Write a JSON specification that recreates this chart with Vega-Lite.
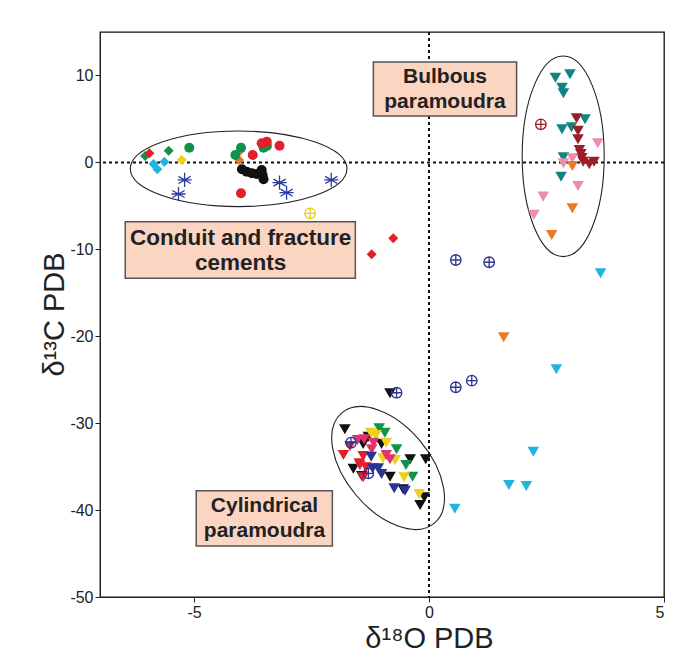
{
  "$schema": "https://vega.github.io/schema/vega-lite/v6.json",
  "width": 564,
  "height": 565,
  "autosize": {"type": "none"},
  "padding": {"left": 100, "top": 32, "right": 9, "bottom": 61},
  "background": "white",
  "config": {
    "view": {"stroke": "#111", "strokeWidth": 1.3},
    "axis": {"grid": false, "labelFont": "Liberation Sans", "labelFontSize": 16, "labelColor": "#222", "tickColor": "#222", "tickSize": 5, "domainColor": "#222", "titleFont": "Liberation Sans", "titleFontWeight": "normal", "titleFontSize": 29, "titleColor": "#222", "labelExpr": "'' + datum.value"}
  },
  "datasets": {
    "pts": [
      {"x": -6.04, "y": 0.74, "s": "g1"}, {"x": -5.54, "y": 1.35, "s": "g1"},
      {"x": -5.95, "y": 1.05, "s": "g2"}, {"x": -0.76, "y": -8.73, "s": "g2"}, {"x": -1.22, "y": -10.57, "s": "g2"},
      {"x": -5.86, "y": -0.18, "s": "g3"}, {"x": -5.78, "y": -0.79, "s": "g3"}, {"x": -5.63, "y": 0.08, "s": "g3"},
      {"x": -5.26, "y": 0.28, "s": "g4"},
      {"x": -4.02, "y": 1.35, "s": "g5"}, {"x": -4.04, "y": 0.28, "s": "g5"},
      {"x": -5.10, "y": 1.69, "s": "g6"}, {"x": -4.00, "y": 1.69, "s": "g6"}, {"x": -4.12, "y": 0.85, "s": "g6"}, {"x": -3.52, "y": 1.69, "s": "g6"}, {"x": -3.45, "y": 1.89, "s": "g6"},
      {"x": -3.75, "y": 0.85, "s": "g7"}, {"x": -3.56, "y": 2.2, "s": "g7"}, {"x": -3.45, "y": 2.38, "s": "g7"}, {"x": -3.18, "y": 1.92, "s": "g7"}, {"x": -4.0, "y": -3.56, "s": "g7"},
      {"x": -3.98, "y": -0.79, "s": "g8"}, {"x": -3.88, "y": -1.07, "s": "g8"}, {"x": -3.77, "y": -1.25, "s": "g8"}, {"x": -3.66, "y": -1.33, "s": "g8"}, {"x": -3.56, "y": -0.87, "s": "g8"}, {"x": -3.54, "y": -1.45, "s": "g8"}, {"x": -3.52, "y": -1.94, "s": "g8"},
      {"x": 2.69, "y": 9.74, "s": "g9"}, {"x": 3.0, "y": 10.14, "s": "g9"}, {"x": 2.83, "y": 8.59, "s": "g9"}, {"x": 2.86, "y": 7.95, "s": "g9"}, {"x": 3.32, "y": 4.96, "s": "g9"}, {"x": 2.83, "y": 3.81, "s": "g9"}, {"x": 3.03, "y": 4.04, "s": "g9"}, {"x": 2.86, "y": 0.59, "s": "g9"}, {"x": 2.81, "y": -1.65, "s": "g9"},
      {"x": 3.14, "y": 5.07, "s": "g10"}, {"x": 3.17, "y": 3.65, "s": "g10"}, {"x": 3.17, "y": 2.66, "s": "g10"}, {"x": 3.2, "y": 1.43, "s": "g10"}, {"x": 3.23, "y": 0.97, "s": "g10"}, {"x": 3.25, "y": 0.5, "s": "g10"}, {"x": 3.28, "y": 0.08, "s": "g10"}, {"x": 3.41, "y": -0.22, "s": "g10"}, {"x": 3.51, "y": 0.08, "s": "g10"},
      {"x": 3.59, "y": 2.2, "s": "g11"}, {"x": 3.05, "y": 0.47, "s": "g11"}, {"x": 2.86, "y": -0.1, "s": "g11"}, {"x": 3.17, "y": -2.72, "s": "g11"}, {"x": 2.43, "y": -3.94, "s": "g11"}, {"x": 2.23, "y": -6.04, "s": "g11"},
      {"x": 3.05, "y": -0.41, "s": "g12"}, {"x": 3.05, "y": -5.28, "s": "g12"}, {"x": 2.61, "y": -8.35, "s": "g12"}, {"x": 1.59, "y": -20.12, "s": "g12"},
      {"x": 3.65, "y": -12.76, "s": "g13"}, {"x": 2.71, "y": -23.8, "s": "g13"}, {"x": 2.22, "y": -33.28, "s": "g13"}, {"x": 1.7, "y": -37.11, "s": "g13"}, {"x": 2.07, "y": -37.23, "s": "g13"}, {"x": 0.55, "y": -39.84, "s": "g13"},
      {"x": -0.83, "y": -26.56, "s": "g14"}, {"x": -1.79, "y": -30.71, "s": "g14"}, {"x": -1.29, "y": -31.56, "s": "g14"}, {"x": -1.4, "y": -32.4, "s": "g14"}, {"x": -1.01, "y": -32.4, "s": "g14"}, {"x": -0.4, "y": -34.16, "s": "g14"}, {"x": -0.07, "y": -34.16, "s": "g14"}, {"x": -1.61, "y": -35.24, "s": "g14"}, {"x": -1.43, "y": -36.08, "s": "g14"}, {"x": -0.83, "y": -36.16, "s": "g14"}, {"x": -0.55, "y": -37.61, "s": "g14"}, {"x": -0.1, "y": -38.53, "s": "g14"}, {"x": -0.19, "y": -39.42, "s": "g14"},
      {"x": -1.06, "y": -30.59, "s": "g15"}, {"x": -0.94, "y": -31.1, "s": "g15"}, {"x": -0.69, "y": -33.01, "s": "g15"}, {"x": -0.49, "y": -34.81, "s": "g15"}, {"x": -0.35, "y": -36.16, "s": "g15"},
      {"x": -1.24, "y": -31.1, "s": "g16"}, {"x": -1.13, "y": -31.36, "s": "g16"}, {"x": -0.91, "y": -32.25, "s": "g16"}, {"x": -0.98, "y": -34.04, "s": "g16"}, {"x": -0.72, "y": -34.24, "s": "g16"}, {"x": -0.53, "y": -36.23, "s": "g16"}, {"x": -0.21, "y": -38.15, "s": "g16"},
      {"x": -1.52, "y": -31.94, "s": "g17"}, {"x": -1.38, "y": -31.86, "s": "g17"}, {"x": -1.18, "y": -32.25, "s": "g17"}, {"x": -1.22, "y": -33.01, "s": "g17"}, {"x": -0.91, "y": -33.66, "s": "g17"}, {"x": -0.83, "y": -34.16, "s": "g17"}, {"x": -1.47, "y": -34.85, "s": "g17"},
      {"x": -1.68, "y": -32.63, "s": "g18"}, {"x": -1.82, "y": -33.66, "s": "g18"}, {"x": -1.4, "y": -33.78, "s": "g18"}, {"x": -1.48, "y": -34.62, "s": "g18"}, {"x": -1.34, "y": -35.08, "s": "g18"}, {"x": -1.4, "y": -36.23, "s": "g18"},
      {"x": -1.23, "y": -33.86, "s": "g19"}, {"x": -1.2, "y": -35.19, "s": "g19"}, {"x": -1.08, "y": -35.19, "s": "g19"}, {"x": -1.01, "y": -35.85, "s": "g19"}, {"x": -0.74, "y": -37.49, "s": "g19"}, {"x": -0.51, "y": -37.77, "s": "g19"},
      {"x": -5.2, "y": -2.02, "s": "g20"}, {"x": -5.33, "y": -3.64, "s": "g20"}, {"x": -3.18, "y": -2.33, "s": "g20"}, {"x": -3.03, "y": -3.49, "s": "g20"}, {"x": -2.08, "y": -2.02, "s": "g20"},
      {"x": -2.53, "y": -5.86, "s": "g21"},
      {"x": 0.57, "y": -11.23, "s": "g22"}, {"x": 1.28, "y": -11.49, "s": "g22"}, {"x": 0.57, "y": -25.87, "s": "g22"}, {"x": 0.91, "y": -25.11, "s": "g22"}, {"x": -0.69, "y": -26.5, "s": "g22"}, {"x": -1.66, "y": -32.25, "s": "g22"}, {"x": -1.29, "y": -35.77, "s": "g22"},
      {"x": 2.38, "y": 4.38, "s": "g23"}
    ]
  },
  "layer": [
    {
      "data": {"values": [{"v": 0}]},
      "mark": {"type": "rule", "color": "#111", "strokeWidth": 2, "strokeDash": [3, 3]},
      "encoding": {"x": {"datum": 0, "type": "quantitative"}}
    },
    {
      "data": {"values": [{"v": 0}]},
      "mark": {"type": "rule", "color": "#111", "strokeWidth": 2, "strokeDash": [3, 3]},
      "encoding": {"y": {"datum": 0, "type": "quantitative"}}
    },
    {
      "data": {"values": [{"x": -4.05, "y": -0.74, "name": "Conduit and fracture cements"}]},
      "mark": {"type": "point", "filled": false, "opacity": 1, "stroke": "#222", "strokeWidth": 1.1, "size": 46916, "shape": "M1,0C1,0.193,0.552,0.349,0,0.349C-0.552,0.349,-1,0.193,-1,0C-1,-0.193,-0.552,-0.349,0,-0.349C0.552,-0.349,1,-0.193,1,0Z"},
      "encoding": {"x": {"field": "x", "type": "quantitative"}, "y": {"field": "y", "type": "quantitative"}}
    },
    {
      "data": {"values": [{"x": 2.855, "y": 0.7, "name": "Bulbous paramoudra"}]},
      "mark": {"type": "point", "filled": false, "opacity": 1, "stroke": "#222", "strokeWidth": 1.1, "size": 40240, "shape": "M0.409,0C0.409,0.552,0.226,1,0,1C-0.226,1,-0.409,0.552,-0.409,0C-0.409,-0.552,-0.226,-1,0,-1C0.226,-1,0.409,-0.552,0.409,0Z"},
      "encoding": {"x": {"field": "x", "type": "quantitative"}, "y": {"field": "y", "type": "quantitative"}}
    },
    {
      "data": {"values": [{"x": -0.87, "y": -35.16, "name": "Cylindrical paramoudra"}]},
      "mark": {"type": "point", "filled": false, "opacity": 1, "stroke": "#222", "strokeWidth": 1.1, "size": 20736, "angle": 50, "shape": "M1,0C1,0.322,0.552,0.583,0,0.583C-0.552,0.583,-1,0.322,-1,0C-1,-0.322,-0.552,-0.583,0,-0.583C0.552,-0.583,1,-0.322,1,0Z"},
      "encoding": {"x": {"field": "x", "type": "quantitative"}, "y": {"field": "y", "type": "quantitative"}}
    },
    {
      "data": {"name": "pts"},
      "transform": [{"filter": {"field": "s", "oneOf": ["g1", "g2", "g3", "g4", "g5", "g6", "g7", "g8"]}}],
      "mark": {"type": "point", "filled": true, "opacity": 1, "size": 100},
      "encoding": {
        "x": {"field": "x", "type": "quantitative", "scale": {"domain": [-7, 5], "nice": false, "zero": false}, "axis": {"values": [-5, 0, 5], "title": "δ¹⁸O PDB", "labelPadding": 2, "titleX": 329, "titleY": 41, "titleAlign": "center", "titleBaseline": "middle"}},
        "y": {"field": "y", "type": "quantitative", "scale": {"domain": [-50, 15], "nice": false, "zero": false}, "axis": {"values": [-50, -40, -30, -20, -10, 0, 10], "title": "δ¹³C PDB", "labelPadding": 2, "titleX": -46, "titleY": 282, "titleAngle": -90, "titleAlign": "center", "titleBaseline": "middle"}},
        "color": {"field": "s", "type": "nominal", "legend": null, "scale": {"domain": ["g1","g2","g3","g4","g5","g6","g7","g8","g9","g10","g11","g12","g13","g14","g15","g16","g17","g18","g19","g20","g21","g22","g23"], "range": ["#13914A","#E2202B","#22B4E0","#F0D01A","#E97A26","#13914A","#E2202B","#111111","#128383","#9C1E26","#EE8DB0","#E97A26","#22B4E0","#111111","#13914A","#F0D01A","#E2336F","#E2202B","#283593","#2B3C9E","#EBCB14","#2B3590","#9C1E26"]}},
        "shape": {"field": "s", "type": "nominal", "legend": null, "scale": {"domain": ["g1","g2","g3","g4","g5","g6","g7","g8"], "range": ["diamond","diamond","diamond","diamond","diamond","circle","circle","circle"]}}
      }
    },
    {
      "data": {"name": "pts"},
      "transform": [{"filter": {"field": "s", "oneOf": ["g9","g10","g11","g12","g13","g14","g15","g16","g17","g18","g19"]}}],
      "mark": {"type": "point", "filled": true, "opacity": 1, "size": 135, "shape": "triangle-down"},
      "encoding": {
        "x": {"field": "x", "type": "quantitative"},
        "y": {"field": "y", "type": "quantitative"},
        "color": {"field": "s", "type": "nominal", "legend": null}
      }
    },
    {
      "data": {"name": "pts"},
      "transform": [{"filter": {"field": "s", "oneOf": ["g20"]}}],
      "mark": {"type": "point", "filled": false, "opacity": 1, "size": 200, "strokeWidth": 1.3, "shape": "M0,-1L0,1M-0.866,-0.5L0.866,0.5M-0.866,0.5L0.866,-0.5M-1,0L1,0"},
      "encoding": {
        "x": {"field": "x", "type": "quantitative"},
        "y": {"field": "y", "type": "quantitative"},
        "color": {"field": "s", "type": "nominal", "legend": null}
      }
    },
    {
      "data": {"name": "pts"},
      "transform": [{"filter": {"field": "s", "oneOf": ["g21","g22","g23"]}}],
      "mark": {"type": "point", "filled": false, "opacity": 1, "size": 110, "strokeWidth": 1.3, "shape": "M1,0C1,0.552,0.552,1,0,1C-0.552,1,-1,0.552,-1,0C-1,-0.552,-0.552,-1,0,-1C0.552,-1,1,-0.552,1,0ZM-1,0L1,0M0,-1L0,1"},
      "encoding": {
        "x": {"field": "x", "type": "quantitative"},
        "y": {"field": "y", "type": "quantitative"},
        "color": {"field": "s", "type": "nominal", "legend": null}
      }
    },
    {
      "data": {"values": [
        {"x1": -1.184, "x2": 1.864, "y1": 11.55, "y2": 5.34},
        {"x1": -6.463, "x2": -1.567, "y1": -6.82, "y2": -13.33},
        {"x1": -4.953, "x2": -2.056, "y1": -37.77, "y2": -44.13}
      ]},
      "mark": {"type": "rect", "fill": "#FCD4C2", "stroke": "#555", "strokeWidth": 1.5},
      "encoding": {"x": {"field": "x1", "type": "quantitative"}, "x2": {"field": "x2"}, "y": {"field": "y1", "type": "quantitative"}, "y2": {"field": "y2"}}
    },
    {
      "data": {"values": [
        {"x": 0.34, "y": 8.44, "label": "Bulbous\nparamoudra"},
        {"x": -3.5, "y": -40.95, "label": "Cylindrical\nparamoudra"}
      ]},
      "mark": {"type": "text", "font": "Liberation Sans", "fontWeight": "bold", "fontSize": 21, "color": "#222", "lineBreak": "\n", "lineHeight": 25, "align": "center", "baseline": "middle", "dy": -12.5},
      "encoding": {"x": {"field": "x", "type": "quantitative"}, "y": {"field": "y", "type": "quantitative"}, "text": {"field": "label"}}
    },
    {
      "data": {"values": [
        {"x": -4.01, "y": -10.08, "label": "Conduit and fracture\ncements"}
      ]},
      "mark": {"type": "text", "font": "Liberation Sans", "fontWeight": "bold", "fontSize": 22.5, "color": "#222", "lineBreak": "\n", "lineHeight": 25, "align": "center", "baseline": "middle", "dy": -12.5},
      "encoding": {"x": {"field": "x", "type": "quantitative"}, "y": {"field": "y", "type": "quantitative"}, "text": {"field": "label"}}
    }
  ]
}
